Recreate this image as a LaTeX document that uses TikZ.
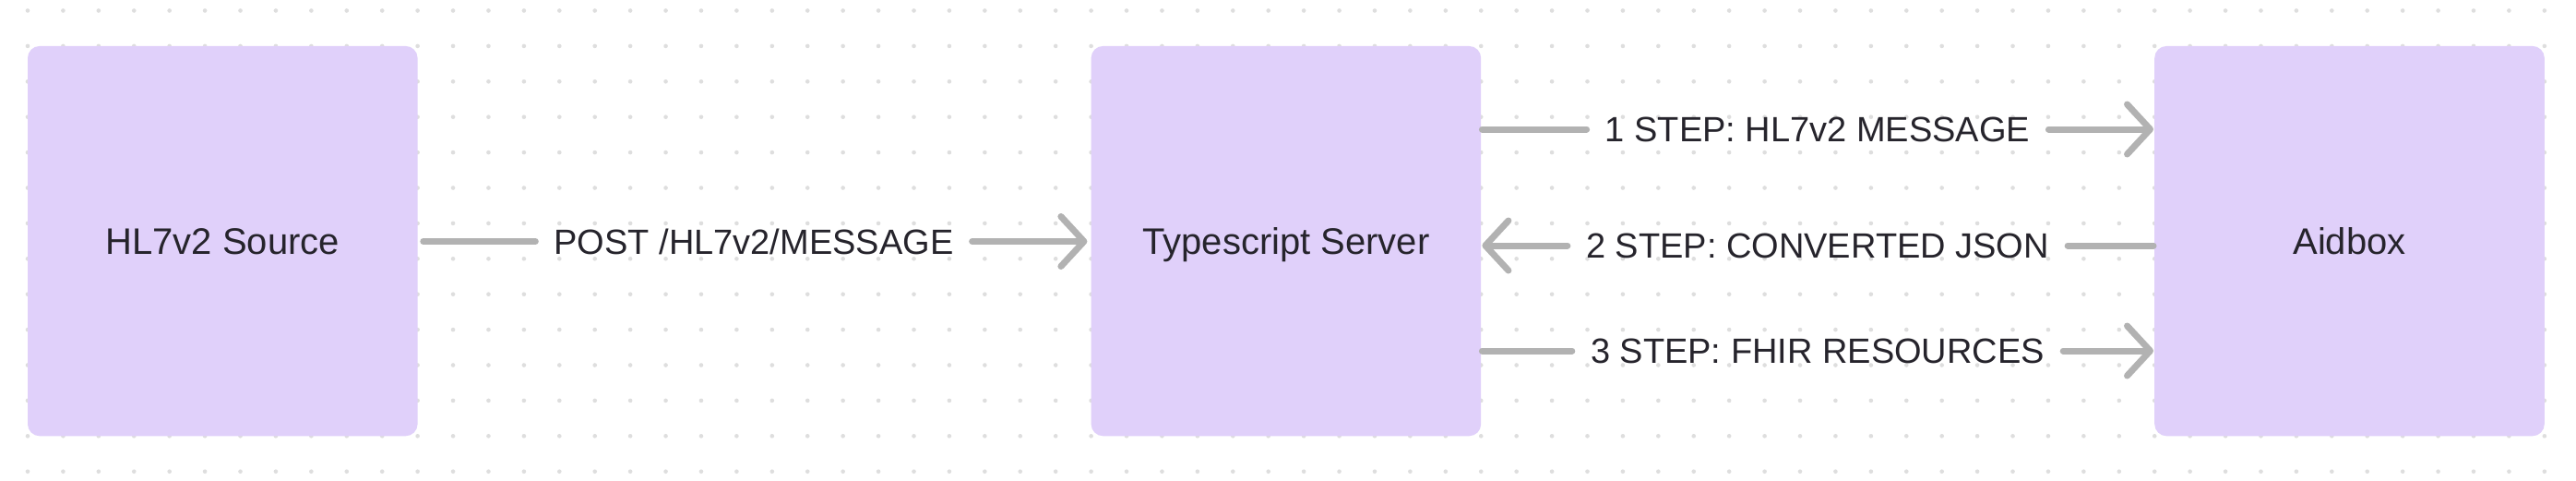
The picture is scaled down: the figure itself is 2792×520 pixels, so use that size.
\documentclass[tikz,border=0pt]{standalone}
\usepackage{fontspec}
\setmainfont{Liberation Sans}
\usetikzlibrary{arrows.meta}
\definecolor{boxfill}{RGB}{224,208,250}
\definecolor{dotc}{RGB}{222,222,222}
\definecolor{arrc}{RGB}{178,178,178}
\definecolor{txtc}{RGB}{38,36,44}
\begin{document}
\begin{tikzpicture}[x=1pt,y=-1pt,
  boxnode/.style={fill=boxfill, rounded corners=13pt, minimum width=422.6pt, minimum height=422.4pt, inner sep=0pt, font=\fontsize{40}{48}\selectfont, text=txtc, text height=28.6pt, text depth=0pt},
  lbl/.style={font=\fontsize{38}{46}\selectfont, text=txtc, inner xsep=20pt, inner ysep=0pt, text height=27.2pt, text depth=0pt},
  conn/.style={draw=arrc, line width=7pt, line cap=round, line join=round},
  tip/.style={-{Straight Barb[length=25pt,width=54pt,round]}}
]
\useasboundingbox (0,0) rectangle (2792,520);
\fill[white] (0,0) rectangle (2792,520);
\foreach \i in {0,...,71} {
  \foreach \j in {0,...,13} {
    \fill[dotc] (30+\i*38.42, 11.5+\j*38.4) circle (2.3pt);
  }
}
\node[boxnode] (src) at (241.3,261.1) {HL7v2 Source};
\node[boxnode] (ts) at (1393.9,261.1) {Typescript Server};
\node[boxnode] (aid) at (2546.5,261.1) {Aidbox};

\node[lbl] (l0) at (817,261.5) {POST /HL7v2/MESSAGE};
\node[lbl] (l1) at (1970,140) {1 STEP: HL7v2 MESSAGE};
\node[lbl] (l2) at (1970,266) {2 STEP: CONVERTED JSON};
\node[lbl] (l3) at (1970,380) {3 STEP: FHIR RESOURCES};

\draw[conn, shorten <=6pt] (src.east |- l0) -- (l0.west);
\draw[conn, tip, shorten >=4pt] (l0.east) -- (ts.west |- l0);

\draw[conn, shorten <=1pt] (ts.east |- l1) -- (l1.west);
\draw[conn, tip, shorten >=1pt] (l1.east) -- (aid.west |- l1);

\draw[conn, shorten <=1pt] (aid.west |- l2) -- (l2.east);
\draw[conn, tip, shorten >=1pt] (l2.west) -- (ts.east |- l2);

\draw[conn, shorten <=1pt] (ts.east |- l3) -- (l3.west);
\draw[conn, tip, shorten >=1pt] (l3.east) -- (aid.west |- l3);
\end{tikzpicture}
\end{document}
